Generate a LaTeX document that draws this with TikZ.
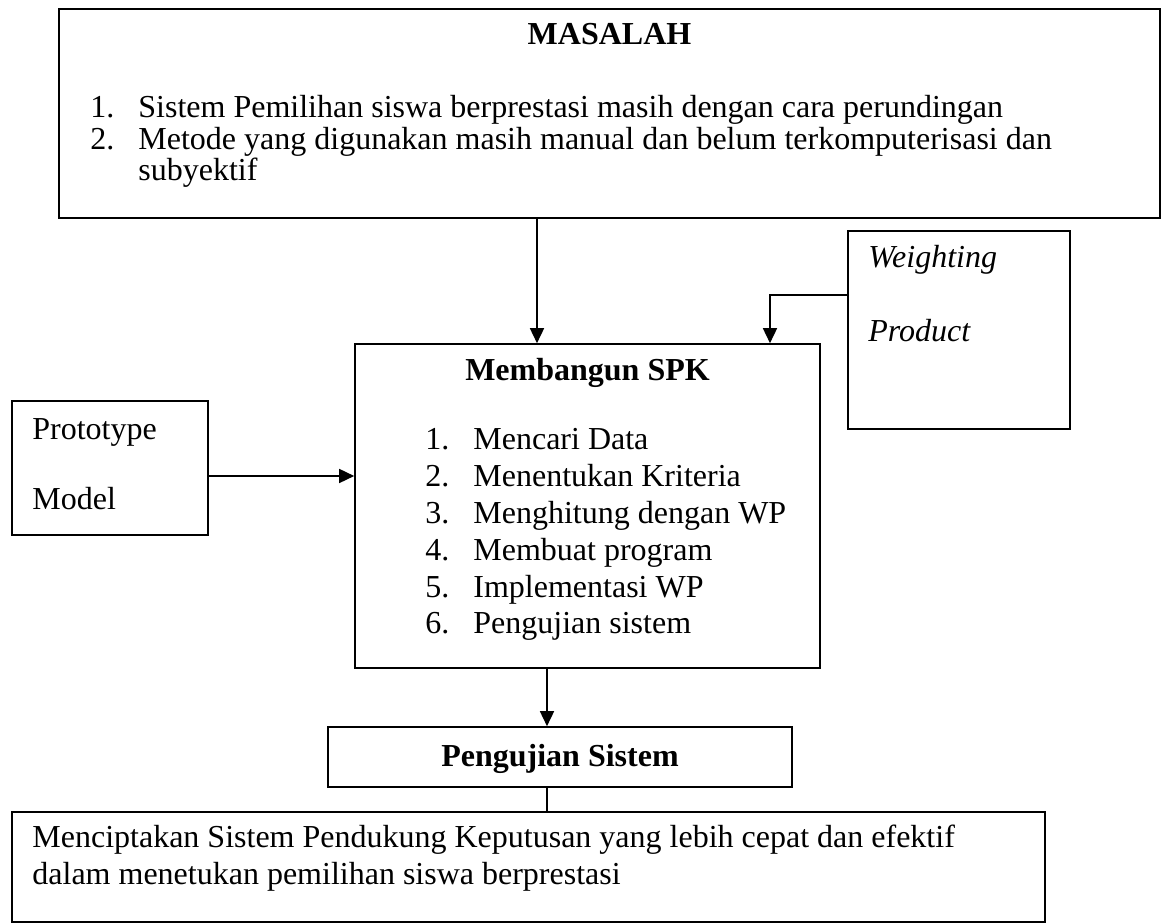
\documentclass[tikz,border=0pt]{standalone}
\usepackage{fontspec}
\setmainfont{Liberation Serif}
\usetikzlibrary{arrows.meta,fit}

\begin{document}
\begin{tikzpicture}[x=0.5pt, y=-0.5pt, >={Triangle[length=7.5pt,width=7pt]},
                    font=\fontsize{16}{18.4}\selectfont,
                    box/.style={draw, line width=0.8pt, inner sep=0pt},
                    txt/.style={inner sep=0pt, anchor=base west},
                    flow/.style={->, line width=0.8pt}]
  \useasboundingbox (0,0) rectangle (1163,924);
  % boxes
  \node (masalah) [box, fit={(59,9) (1160,218)}] {};
  \node (wp)      [box, fit={(848,231) (1070,429)}] {};
  \node (spk)     [box, fit={(355,344) (820,668)}] {};
  \node (proto)   [box, fit={(12,401) (208,535)}] {};
  \node (uji)     [box, fit={(328,727) (792,787)}] {};
  \node (hasil)   [box, fit={(12,812) (1045,922)}] {};
  % texts
  \node (masalahtitle) [inner sep=0pt, anchor=base] at (609.5,45) {\bfseries MASALAH};
  \node (masalahlist) [txt] at (90,118) {\fontsize{16}{15}\selectfont
    \begin{tabular}[t]{@{}p{24pt}@{}l@{}}
      1. & Sistem Pemilihan siswa berprestasi masih dengan cara perundingan\\
      2. & Metode yang digunakan masih manual dan belum terkomputerisasi dan\\
         & subyektif
    \end{tabular}};
  \node (wptext) [txt] at (868,268) {\itshape
    \begin{tabular}[t]{@{}l@{}} Weighting\\[18.4pt] Product \end{tabular}};
  \node (spktitle) [inner sep=0pt, anchor=base] at (587.5,381) {\bfseries Membangun SPK};
  \node (spklist) [txt] at (425,450) {
    \begin{tabular}[t]{@{}p{24pt}@{}l@{}}
      1. & Mencari Data\\
      2. & Menentukan Kriteria\\
      3. & Menghitung dengan WP\\
      4. & Membuat program\\
      5. & Implementasi WP\\
      6. & Pengujian sistem
    \end{tabular}};
  \node (prototext) [txt] at (32,440) {
    \begin{tabular}[t]{@{}l@{}} Prototype\\[16.6pt] Model \end{tabular}};
  \node (ujitext) [inner sep=0pt, anchor=base] at (560,767) {\bfseries Pengujian Sistem};
  \node (hasiltext) [txt] at (32,848) {
    \begin{tabular}[t]{@{}l@{}}
      Menciptakan Sistem Pendukung Keputusan yang lebih cepat dan efektif\\
      dalam menetukan pemilihan siswa berprestasi
    \end{tabular}};
  % connectors
  \draw[flow] ([xshift=-25.25pt]spk.north |- masalah.south) -- ([xshift=-25.25pt]spk.north);
  \draw[flow] ([yshift=17.5pt]wp.west) -| ([xshift=91.25pt]spk.north);
  \draw[flow] ([yshift=-4pt]proto.east) -- ([yshift=-4pt]proto.east -| spk.west);
  \draw[flow] ([xshift=-20.25pt]spk.south) -- ([xshift=-20.25pt]spk.south |- uji.north);
  \draw[line width=0.8pt] ([xshift=-20.25pt]spk.south |- uji.south) -- ([xshift=-20.25pt]spk.south |- hasil.north);
\end{tikzpicture}
\end{document}
